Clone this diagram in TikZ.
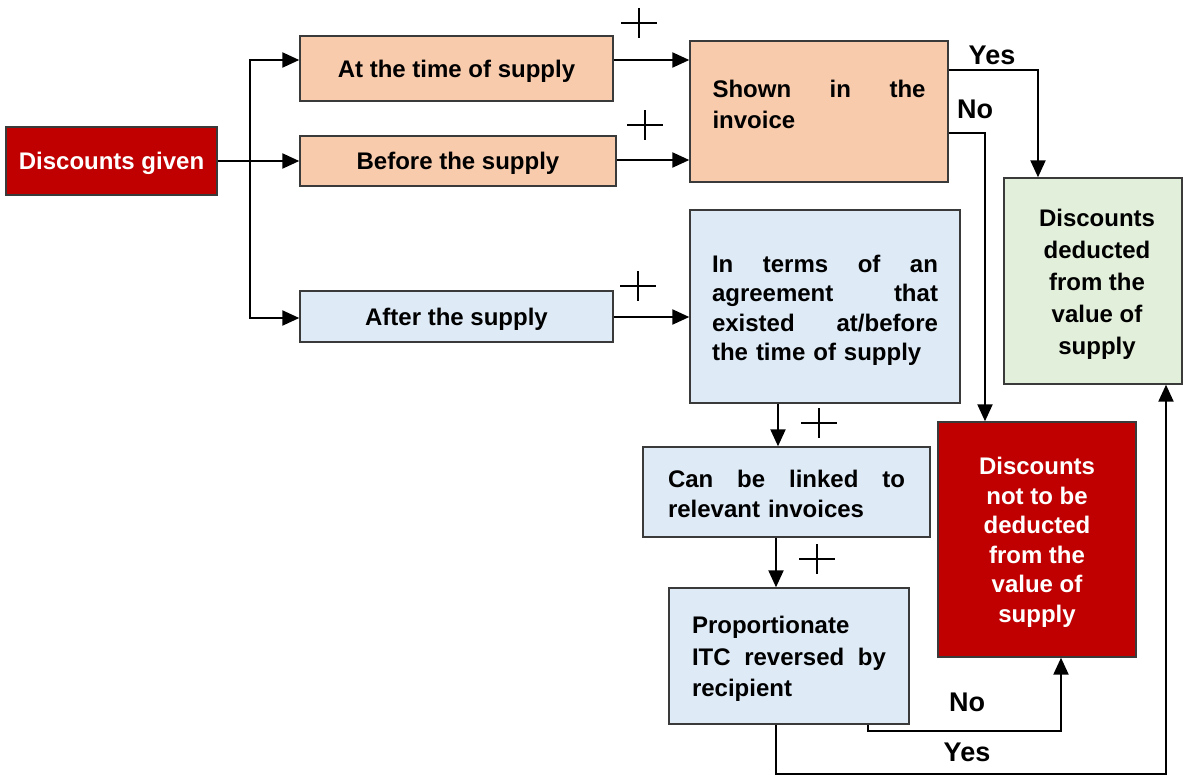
\documentclass[tikz,border=0pt]{standalone}
\usepackage{fontspec}
\setmainfont{Liberation Sans}
\usetikzlibrary{arrows.meta,calc}
\definecolor{peach}{HTML}{F8CBAD}
\definecolor{lblue}{HTML}{DEEBF7}
\definecolor{lgreen}{HTML}{E2EFDA}
\definecolor{dred}{HTML}{C00000}
\definecolor{edge}{HTML}{3A3A3A}
\newcommand\sline[2]{\leavevmode\hbox to #1pt{#2}}
\newcommand\plusmark[1]{\draw[line width=1.2pt] ($(#1)+(-18,0)$) -- ++(36,0) ($(#1)+(0,-15)$) -- ++(0,30);}
\tikzset{
  box/.style={draw=edge, line width=1.4pt, inner sep=0pt},
  txt/.style={inner sep=0pt, font=\bfseries\fontsize{24}{29.5}\selectfont},
  conn/.style={draw=black, line width=2.2pt},
  arr/.style={conn, -{Triangle[length=17pt,width=15pt]}},
  yn/.style={font=\bfseries\fontsize{27}{27}\selectfont, inner sep=0pt}
}
\begin{document}
\begin{tikzpicture}[x=1pt,y=-1pt]
\clip (0,0) rectangle (1183,776);
\fill[white] (0,0) rectangle (1183,776);
% boxes
\node[box, fill=dred, minimum width=211, minimum height=68] (dg) at (111.5,161) {};
\node[box, fill=peach, minimum width=313, minimum height=65] (at) at (456.5,68.5) {};
\node[box, fill=peach, minimum width=316, minimum height=50] (bef) at (458,161) {};
\node[box, fill=lblue, minimum width=313, minimum height=51] (aft) at (456.5,316.5) {};
\node[box, fill=peach, minimum width=258, minimum height=141] (shown) at (819,111.5) {};
\node[box, fill=lblue, minimum width=270, minimum height=193] (agr) at (825,306.5) {};
\node[box, fill=lblue, minimum width=287, minimum height=90] (link) at (786.5,492) {};
\node[box, fill=lblue, minimum width=240, minimum height=136] (prop) at (789,656) {};
\node[box, fill=lgreen, minimum width=178, minimum height=206] (green) at (1093,281) {};
\node[box, fill=dred, minimum width=198, minimum height=235] (red) at (1037,539.5) {};
% texts
\node[txt, text=white] (dgt) at ([yshift=-2pt]dg.center) {Discounts given};
\node[txt] (att) at ([yshift=-3pt]at.center) {At the time of supply};
\node[txt] (beft) at ([yshift=-2pt]bef.center) {Before the supply};
\node[txt] (aftt) at ([yshift=-3pt]aft.center) {After the supply};
\node[txt, text width=213, align=left, font=\bfseries\fontsize{24}{31}\selectfont] (shownt)
  at ([yshift=7pt]shown.center) {\sline{213}{Shown\hfill in\hfill the}\\invoice};
\node[txt, text width=226, align=left] (agrt) at ([yshift=-4pt]agr.center)
  {\sline{226}{In\hfill terms\hfill of\hfill an}\\\sline{226}{agreement\hfill that}\\\sline{226}{existed\hfill at/before}\\the time of supply};
\node[txt, text width=237, align=left] (linkt) at ([yshift=-2pt]link.center)
  {\sline{237}{Can\hfill be\hfill linked\hfill to}\\relevant invoices};
\node[txt, text width=194, align=left, font=\bfseries\fontsize{24}{31.5}\selectfont] (propt)
  at ([yshift=-3pt]prop.center) {Proportionate\\\sline{194}{ITC\hfill reversed\hfill by}\\recipient};
\node[txt, align=center, font=\bfseries\fontsize{24}{32}\selectfont] (greent)
  at ([xshift=4pt,yshift=-3pt]green.center) {Discounts\\deducted\\from the\\value of\\supply};
\node[txt, text=white, align=center] (redt) at ([yshift=-3pt]red.center)
  {Discounts\\not to be\\deducted\\from the\\value of\\supply};
% connectors from Discounts given
\coordinate (j) at (250,161);
\draw[conn, line width=1.6pt] (dg.east) -- (j);
\draw[arr] (j) |- ([yshift=8.5pt]at.west);
\draw[arr] (j) -- (bef.west);
\draw[arr] (j) |- ([yshift=-1.5pt]aft.west);
% to second column
\draw[arr] ([yshift=8.5pt]at.east) -- ([yshift=8.5pt]at.east -| shown.west);
\draw[arr] ([yshift=1pt]bef.east) -- ([yshift=1pt]bef.east -| shown.west);
\draw[arr] ([yshift=-0.5pt]aft.east) -- ([yshift=-0.5pt]aft.east -| agr.west);
% shown in invoice
\draw[arr] ([yshift=41.5pt]shown.east) -| ([xshift=-55pt]green.north);
\draw[arr] ([yshift=-21.5pt]shown.east) -| ([xshift=-52pt]red.north);
\node[yn] (yes1) at (992,55) {Yes};
\node[yn] (no1) at (975,109) {No};
% downward chain
\draw[arr] ([xshift=-47pt]agr.south) -- ([xshift=-47pt]agr.south |- link.north);
\draw[arr] ([xshift=-10.5pt]link.south) -- ([xshift=-10.5pt]link.south |- prop.north);
% from proportionate
\draw[arr] ([xshift=79pt]prop.south) -- ++(0,6) -| ([xshift=24pt]red.south);
\draw[arr] ([xshift=-13pt]prop.south) -- ++(0,49) -| ([xshift=73pt]green.south);
\node[yn] (no2) at (967,702) {No};
\node[yn] (yes2) at (967,752) {Yes};
% plus marks
\coordinate (p1) at (639,23);
\coordinate (p2) at (645,125);
\coordinate (p3) at (638,286);
\coordinate (p4) at (819,423);
\coordinate (p5) at (817,559);
\plusmark{p1}\plusmark{p2}\plusmark{p3}\plusmark{p4}\plusmark{p5}
\end{tikzpicture}
\end{document}
